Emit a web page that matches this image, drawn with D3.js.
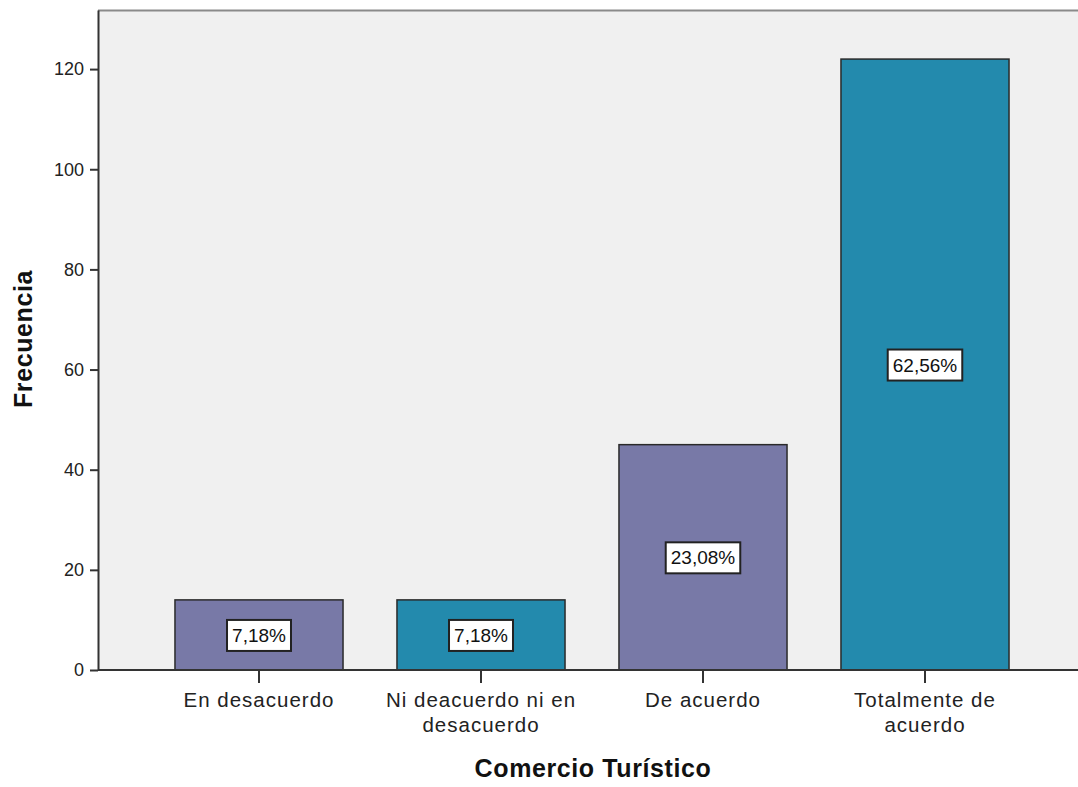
<!DOCTYPE html>
<html>
<head>
<meta charset="utf-8">
<script src="https://cdn.jsdelivr.net/npm/d3@7"></script>
<style>
  html, body { margin: 0; padding: 0; background: #ffffff; }
  svg { display: block; font-family: "Liberation Sans", Arial, sans-serif; }
</style>
</head>
<body>
<svg id="chart" width="1078" height="787"></svg>
<script>
const categories = [["En desacuerdo"], ["Ni deacuerdo ni en", "desacuerdo"], ["De acuerdo"], ["Totalmente de", "acuerdo"]];
const frequencies = [14, 14, 45, 122];
const percentLabels = ["7,18%", "7,18%", "23,08%", "62,56%"];
const barColors = ["#7879a7", "#238aad", "#7879a7", "#238aad"];
const yTicks = [0, 20, 40, 60, 80, 100, 120];
const xTitle = "Comercio Turístico";
const yTitle = "Frecuencia";

const svg = d3.select("#chart");
const W = 1078, H = 787;
const plot = { left: 98, right: 1078, top: 10, bottom: 670 };

const keys = categories.map(c => c.join(" "));
const x = d3.scaleBand().domain(keys).range([148, 1036]).paddingInner(0.243).paddingOuter(0.1215);
const y = d3.scaleLinear().domain([0, 131.8]).range([plot.bottom, plot.top]);

// plot background
svg.append("rect").attr("x", plot.left).attr("y", plot.top)
  .attr("width", plot.right - plot.left).attr("height", plot.bottom - plot.top)
  .attr("fill", "#f0f0f0");
// top border
svg.append("line").attr("x1", plot.left).attr("x2", plot.right)
  .attr("y1", plot.top + 0.5).attr("y2", plot.top + 0.5)
  .attr("stroke", "#8a8a8a").attr("stroke-width", 2);

// bars
svg.selectAll("rect.bar").data(frequencies).enter().append("rect")
  .attr("class", "bar")
  .attr("x", (d, i) => x(keys[i]))
  .attr("y", d => y(d))
  .attr("width", x.bandwidth())
  .attr("height", d => y(0) - y(d))
  .attr("fill", (d, i) => barColors[i])
  .attr("stroke", "#2a2a2a").attr("stroke-width", 1.5);

// y axis
const yAxis = d3.axisLeft(y).tickValues(yTicks).tickSize(8).tickPadding(6).tickSizeOuter(0);
const gy = svg.append("g").attr("transform", `translate(${plot.left},0)`).call(yAxis);
gy.select(".domain").attr("stroke", "#333").attr("stroke-width", 2);
gy.selectAll(".tick line").attr("stroke", "#333").attr("stroke-width", 2);
gy.selectAll(".tick text").attr("font-size", 18).attr("fill", "#222")
  .attr("font-family", "Liberation Sans, Arial, sans-serif");

// x axis
const xAxis = d3.axisBottom(x).tickSize(13).tickSizeOuter(0).tickFormat("");
const gx = svg.append("g").attr("transform", `translate(0,${plot.bottom})`).call(xAxis);
gx.select(".domain").attr("d", `M${plot.left},0H${plot.right}`).attr("stroke", "#333").attr("stroke-width", 2);
gx.selectAll(".tick line").attr("stroke", "#333").attr("stroke-width", 2);

// category labels
const catG = svg.append("g");
categories.forEach((lines, i) => {
  const t = catG.append("text")
    .attr("x", x(keys[i]) + x.bandwidth() / 2)
    .attr("y", 707)
    .attr("text-anchor", "middle")
    .attr("font-size", 20.5)
    .attr("letter-spacing", 1)
    .attr("fill", "#222");
  lines.forEach((ln, j) => {
    t.append("tspan").attr("x", x(keys[i]) + x.bandwidth() / 2)
      .attr("dy", j === 0 ? 0 : 24.5).text(ln);
  });
});

// percentage labels
frequencies.forEach((d, i) => {
  const cx = x(keys[i]) + x.bandwidth() / 2;
  const cy = y(d / 2);
  const g = svg.append("g");
  const txt = g.append("text").attr("x", cx).attr("y", cy + 7)
    .attr("text-anchor", "middle").attr("font-size", 19).attr("fill", "#111")
    .text(percentLabels[i]);
  const bb = txt.node().getBBox();
  g.insert("rect", "text")
    .attr("x", cx - bb.width / 2 - 5).attr("y", cy - 15)
    .attr("width", bb.width + 10).attr("height", 31)
    .attr("fill", "#ffffff").attr("stroke", "#222").attr("stroke-width", 2);
});

// axis titles
svg.append("text").attr("x", (plot.left + plot.right) / 2 + 5).attr("y", 777)
  .attr("text-anchor", "middle").attr("font-size", 25).attr("font-weight", "bold")
  .attr("letter-spacing", 0.6).attr("fill", "#111").text(xTitle);
svg.append("text").attr("transform", `translate(32,339) rotate(-90)`)
  .attr("text-anchor", "middle").attr("font-size", 25).attr("font-weight", "bold")
  .attr("letter-spacing", 0.6).attr("fill", "#111").text(yTitle);
</script>
</body>
</html>
